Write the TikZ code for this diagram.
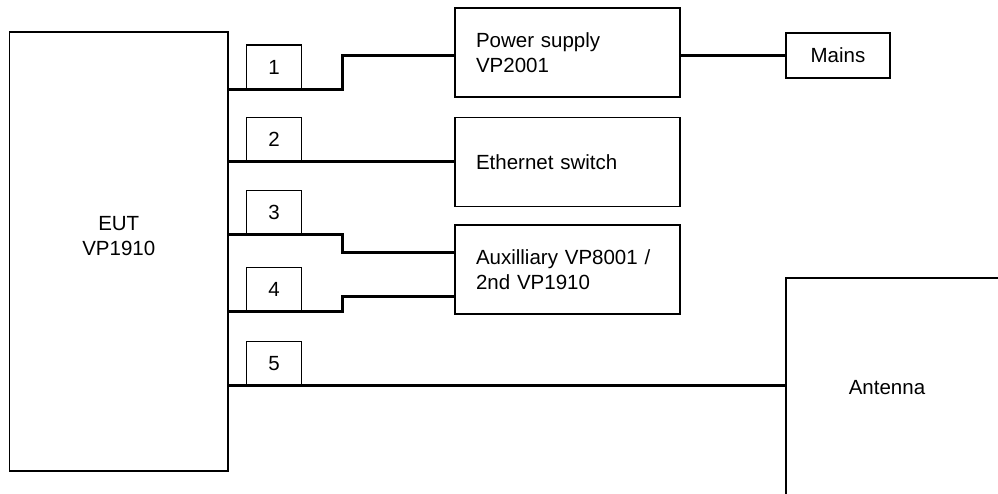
\documentclass[tikz,border=0pt]{standalone}
\usepackage{fontspec}
\setmainfont{Liberation Sans}
\usetikzlibrary{positioning}
\newcommand{\lblfont}{\fontsize{20.5}{25}\selectfont}

\begin{document}
\begin{tikzpicture}[x=1pt,y=-1pt,
  unit/.style={draw,line width=1.5pt,outer sep=0pt,inner sep=0pt,font=\lblfont},
  blk/.style={unit,minimum width=225pt,minimum height=89pt,text width=183pt,
    inner xsep=21pt,align=left},
  port/.style={draw,line width=1.2pt,outer sep=0pt,minimum width=54.5pt,
    minimum height=44pt,font=\lblfont},
  cable/.style={line width=3pt,line join=miter},
  lab/.style={font=\lblfont,align=center,inner sep=0pt}]
  \useasboundingbox (0,0) rectangle (998,493);
  \clip (0,0) rectangle (998,493);
  % units
  \node[unit,minimum width=218.5pt,minimum height=439pt] (eut) at (118.75,251.5) {};
  \node[lab] (euttxt) at ([yshift=15pt]eut.center) {EUT\\VP1910};
  \node[blk] (ps) at (567.5,52.5) {Power supply\\VP2001};
  \node[blk] (eth) at (567.5,162) {Ethernet switch};
  \node[blk] (aux) at (567.5,269.5) {Auxilliary VP8001 /\\2nd VP1910};
  \node[unit,minimum width=104pt,minimum height=45pt] (mains) at (838,55.3) {Mains};
  \node[unit,minimum width=260pt,minimum height=260pt,anchor=north west] (ant) at (786,278) {};
  \node[lab] (anttxt) at (887,388) {Antenna};
  % ports
  \node[port] (p1) at (274,67) {1};
  \node[port] (p2) at (274,139.5) {2};
  \node[port] (p3) at (274,212.5) {3};
  \node[port] (p4) at (274,289.5) {4};
  \node[port] (p5) at (274,363.5) {5};
  % cables
  \coordinate (j1) at (342,55.5);
  \coordinate (j3) at (342,252);
  \coordinate (j4) at (342,296);
  \draw[cable] (eut.east |- p1.south) -| (j1) -- (j1 -| ps.west);
  \draw[cable,line width=2.2pt] (eut.east |- p2.south) -- (p2.south -| eth.west);
  \draw[cable] (eut.east |- p3.south) -| (j3) -- (j3 -| aux.west);
  \draw[cable] (eut.east |- p4.south) -| (j4) -- (j4 -| aux.west);
  \draw[cable] (eut.east |- p5.south) -- (p5.south -| ant.west);
  \draw[cable] (ps.east |- mains.west) -- (mains.west);
\end{tikzpicture}
\end{document}
